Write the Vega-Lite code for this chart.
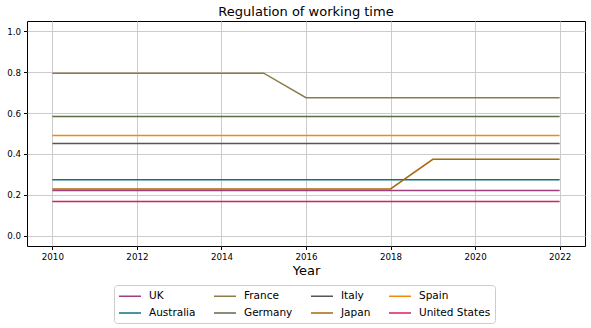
{
  "$schema": "https://vega.github.io/schema/vega-lite/v6.json",
  "width": 558,
  "height": 225,
  "autosize": "none",
  "padding": {"left": 27, "top": 21, "right": 6, "bottom": 82},
  "title": {"text": "Regulation of working time", "fontSize": 13, "fontWeight": "normal", "font": "DejaVu Sans", "anchor": "middle", "offset": 2.5, "color": "black"},
  "data": {"values": [
    {"Year": 2010, "UK": 0.221, "Australia": 0.274, "France": 0.795, "Germany": 0.583, "Italy": 0.451, "Japan": 0.229, "Spain": 0.49, "United States": 0.167},
    {"Year": 2011, "UK": 0.221, "Australia": 0.274, "France": 0.795, "Germany": 0.583, "Italy": 0.451, "Japan": 0.229, "Spain": 0.49, "United States": 0.167},
    {"Year": 2012, "UK": 0.221, "Australia": 0.274, "France": 0.795, "Germany": 0.583, "Italy": 0.451, "Japan": 0.229, "Spain": 0.49, "United States": 0.167},
    {"Year": 2013, "UK": 0.221, "Australia": 0.274, "France": 0.795, "Germany": 0.583, "Italy": 0.451, "Japan": 0.229, "Spain": 0.49, "United States": 0.167},
    {"Year": 2014, "UK": 0.221, "Australia": 0.274, "France": 0.795, "Germany": 0.583, "Italy": 0.451, "Japan": 0.229, "Spain": 0.49, "United States": 0.167},
    {"Year": 2015, "UK": 0.221, "Australia": 0.274, "France": 0.795, "Germany": 0.583, "Italy": 0.451, "Japan": 0.229, "Spain": 0.49, "United States": 0.167},
    {"Year": 2016, "UK": 0.221, "Australia": 0.274, "France": 0.675, "Germany": 0.583, "Italy": 0.451, "Japan": 0.229, "Spain": 0.49, "United States": 0.167},
    {"Year": 2017, "UK": 0.221, "Australia": 0.274, "France": 0.675, "Germany": 0.583, "Italy": 0.451, "Japan": 0.229, "Spain": 0.49, "United States": 0.167},
    {"Year": 2018, "UK": 0.221, "Australia": 0.274, "France": 0.675, "Germany": 0.583, "Italy": 0.451, "Japan": 0.229, "Spain": 0.49, "United States": 0.167},
    {"Year": 2019, "UK": 0.221, "Australia": 0.274, "France": 0.675, "Germany": 0.583, "Italy": 0.451, "Japan": 0.374, "Spain": 0.49, "United States": 0.167},
    {"Year": 2020, "UK": 0.221, "Australia": 0.274, "France": 0.675, "Germany": 0.583, "Italy": 0.451, "Japan": 0.374, "Spain": 0.49, "United States": 0.167},
    {"Year": 2021, "UK": 0.221, "Australia": 0.274, "France": 0.675, "Germany": 0.583, "Italy": 0.451, "Japan": 0.374, "Spain": 0.49, "United States": 0.167},
    {"Year": 2022, "UK": 0.221, "Australia": 0.274, "France": 0.675, "Germany": 0.583, "Italy": 0.451, "Japan": 0.374, "Spain": 0.49, "United States": 0.167}
  ]},
  "transform": [{"fold": ["UK", "Australia", "France", "Germany", "Italy", "Japan", "Spain", "United States"], "as": ["Country", "Value"]}],
  "mark": {"type": "line", "strokeWidth": 1.5},
  "encoding": {
    "x": {
      "field": "Year", "type": "quantitative",
      "scale": {"domain": [2009.4, 2022.6], "nice": false, "zero": false},
      "axis": {"values": [2010, 2012, 2014, 2016, 2018, 2020, 2022], "format": "d", "title": "Year", "titleFontSize": 13, "titlePadding": 3, "labelPadding": 3}
    },
    "y": {
      "field": "Value", "type": "quantitative",
      "scale": {"domain": [-0.05, 1.05], "nice": false, "zero": false},
      "axis": {"values": [0, 0.2, 0.4, 0.6, 0.8, 1.0], "format": ".1f", "title": null, "labelPadding": 3}
    },
    "color": {
      "field": "Country", "type": "nominal",
      "scale": {
        "domain": ["UK", "France", "Italy", "Spain", "Australia", "Germany", "Japan", "United States"],
        "range": ["#a03d7f", "#8b7d4a", "#555555", "#f08a0a", "#0f7080", "#5a6e48", "#a8690c", "#d81f5c"]
      },
      "legend": {
        "title": null, "orient": "none", "legendX": 87, "legendY": 264,
        "direction": "horizontal", "columns": 4,
        "symbolType": "M-1,0H2.667", "symbolSize": 144, "symbolStrokeWidth": 1.5,
        "labelFontSize": 10.5, "labelColor": "black", "labelOffset": 17,
        "columnPadding": 15, "rowPadding": 4, "padding": 4,
        "strokeColor": "#cccccc", "fillColor": "white", "cornerRadius": 3
      }
    }
  },
  "config": {
    "font": "DejaVu Sans",
    "view": {"stroke": "black", "strokeWidth": 1},
    "axis": {
      "grid": true, "gridColor": "#cccccc", "gridWidth": 1,
      "domain": false,
      "tickColor": "black", "tickSize": 3.5, "tickWidth": 1,
      "labelFontSize": 8.7, "labelColor": "black",
      "titleColor": "black", "titleFontWeight": "normal"
    }
  }
}
